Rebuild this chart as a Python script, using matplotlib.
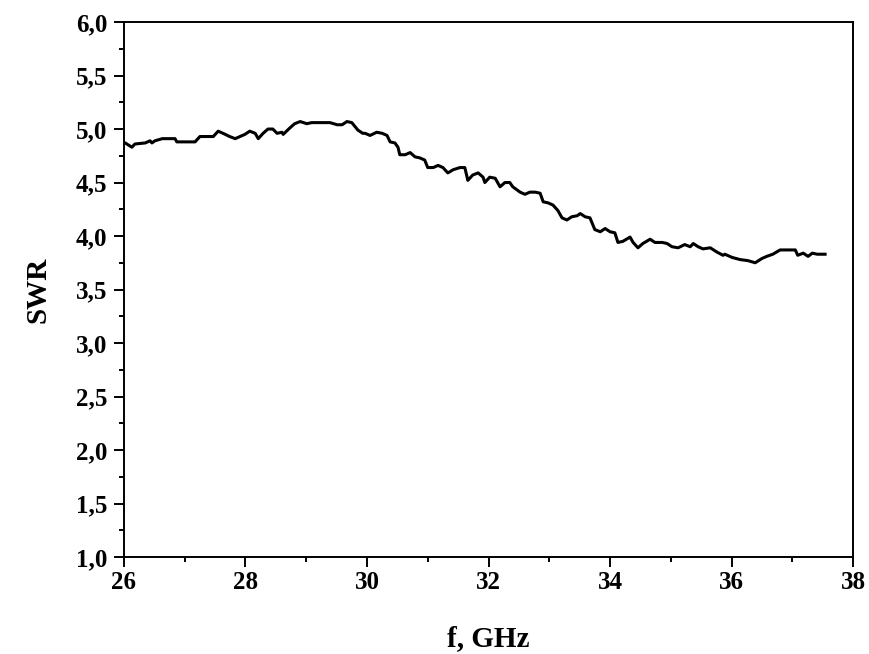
import matplotlib
matplotlib.use("Agg")
import matplotlib.pyplot as plt
from matplotlib.ticker import MultipleLocator, FuncFormatter

# SWR vs frequency
freq = [26.00, 26.02, 26.13, 26.18, 26.35, 26.43, 26.46, 26.51, 26.63, 26.84,
        26.87, 27.17, 27.25, 27.47, 27.55, 27.63, 27.74, 27.83, 27.91, 27.99,
        28.07, 28.16, 28.21, 28.29, 28.37, 28.45, 28.52, 28.60, 28.62, 28.73,
        28.81, 28.90, 29.01, 29.09, 29.18, 29.26, 29.39, 29.51, 29.59, 29.67,
        29.75, 29.85, 29.93, 29.97, 30.05, 30.16, 30.25, 30.33, 30.38, 30.46,
        30.51, 30.54, 30.63, 30.71, 30.79, 30.87, 30.95, 31.00, 31.09, 31.17,
        31.25, 31.33, 31.42, 31.53, 31.61, 31.66, 31.74, 31.83, 31.91, 31.94,
        32.02, 32.11, 32.19, 32.27, 32.35, 32.40, 32.52, 32.60, 32.68, 32.77,
        32.85, 32.90, 32.98, 33.06, 33.14, 33.21, 33.29, 33.37, 33.46, 33.51,
        33.59, 33.67, 33.75, 33.84, 33.92, 34.00, 34.08, 34.13, 34.21, 34.33,
        34.38, 34.46, 34.54, 34.66, 34.74, 34.86, 34.94, 35.02, 35.12, 35.23,
        35.32, 35.37, 35.45, 35.53, 35.65, 35.76, 35.86, 35.89, 36.01, 36.14,
        36.27, 36.39, 36.50, 36.58, 36.68, 36.80, 36.91, 37.05, 37.09, 37.18,
        37.26, 37.33, 37.41, 37.54]
swr = [4.87, 4.87, 4.83, 4.86, 4.87, 4.89, 4.87, 4.89, 4.91, 4.91,
       4.88, 4.88, 4.93, 4.93, 4.98, 4.96, 4.93, 4.91, 4.93, 4.95,
       4.98, 4.96, 4.91, 4.96, 5.00, 5.00, 4.96, 4.97, 4.95, 5.01,
       5.05, 5.07, 5.05, 5.06, 5.06, 5.06, 5.06, 5.04, 5.04, 5.07,
       5.06, 4.99, 4.96, 4.96, 4.94, 4.97, 4.96, 4.94, 4.88, 4.87,
       4.83, 4.76, 4.76, 4.78, 4.74, 4.73, 4.71, 4.64, 4.64, 4.66,
       4.64, 4.59, 4.62, 4.64, 4.64, 4.52, 4.57, 4.59, 4.55, 4.50,
       4.55, 4.54, 4.46, 4.50, 4.50, 4.46, 4.41, 4.39, 4.41, 4.41,
       4.40, 4.32, 4.31, 4.29, 4.24, 4.17, 4.15, 4.18, 4.19, 4.21,
       4.18, 4.17, 4.06, 4.04, 4.07, 4.04, 4.03, 3.94, 3.95, 3.99,
       3.94, 3.89, 3.93, 3.97, 3.94, 3.94, 3.93, 3.90, 3.89, 3.92,
       3.90, 3.93, 3.90, 3.88, 3.89, 3.85, 3.82, 3.83, 3.80, 3.78,
       3.77, 3.75, 3.79, 3.81, 3.83, 3.87, 3.87, 3.87, 3.82, 3.84,
       3.81, 3.84, 3.83, 3.83]

plt.rcParams['font.family'] = ['Liberation Serif', 'DejaVu Serif']
plt.rcParams['font.weight'] = 'bold'

fig = plt.figure(figsize=(8.7, 6.54), dpi=100)
ax = fig.add_axes([0.1425, 0.1483, 0.838, 0.818])

ax.plot(freq, swr, color='black', linewidth=2.2)

ax.set_xlim(26, 38)
ax.set_ylim(1.0, 6.0)
ax.xaxis.set_major_locator(MultipleLocator(2))
ax.xaxis.set_minor_locator(MultipleLocator(1))
ax.yaxis.set_major_locator(MultipleLocator(0.5))
ax.yaxis.set_minor_locator(MultipleLocator(0.25))
ax.yaxis.set_major_formatter(FuncFormatter(lambda v, p: f"{v:.1f}".replace('.', ',')))

ax.tick_params(which='major', direction='out', length=7, width=1.4, labelsize=18)
ax.tick_params(which='minor', direction='out', length=3.5, width=1.4)
ax.tick_params(axis='y', which='major', pad=5)
ax.tick_params(axis='x', which='major', pad=3)
ax.tick_params(top=False, right=False, which='both')
for lbl in ax.get_xticklabels() + ax.get_yticklabels():
    lbl.set_fontweight('bold')
for s in ax.spines.values():
    s.set_linewidth(1.4)

ax.set_xlabel("f, GHz", fontsize=21, fontweight='bold')
ax.set_ylabel("SWR", fontsize=21, fontweight='bold')
ax.xaxis.set_label_coords(0.5, -0.128)
ax.yaxis.set_label_coords(-0.099, 0.5)

fig.savefig("out.png", dpi=100)
